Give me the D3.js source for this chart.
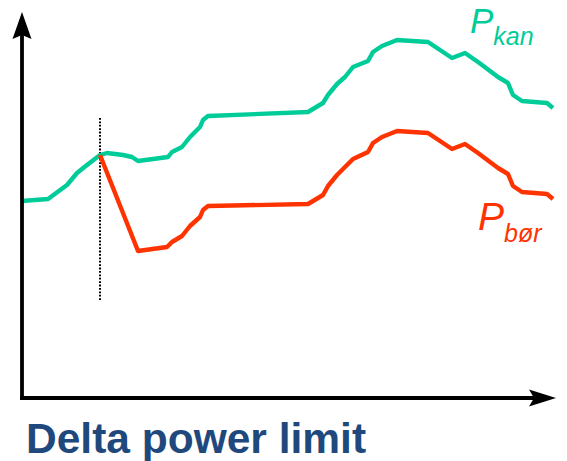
<!DOCTYPE html>
<html><head><meta charset="utf-8">
<script src="https://cdn.jsdelivr.net/npm/d3@7"></script>
<style>body{margin:0;background:#fff}svg{display:block}</style>
</head><body>
<script>
// data (time units t, power units v)
const kanT = [0,26,45,55,65,78,85,101,110,116,146,150,160,168,178,181,186,286,301,306,315,323,331,346,351,360,375,406,418,430,443,456,476,486,491,500,525,531];
const kanV = [197,199,213,225,233,243,245,243,241,237,241,246,251,261,271,278,282,286,295,303,314,321,331,337,346,352,358,356,348,340,345,336,321,315,303,297,295,290];
const borT = [78,116,145,150,160,168,178,181,186,286,301,306,315,323,331,346,351,360,375,406,418,430,443,456,476,486,491,500,525,531];
const borV = [243,147,151,156,162,172,181,188,192,194,203,212,223,231,239,246,255,261,267,265,257,249,254,245,230,224,212,206,204,199];
const eventT = [78];
const eventRange = [98, 280];
const title = "Delta power limit";

const W = 567, H = 461;
const svg = d3.select("body").append("svg").attr("width", W).attr("height", H);
const x = d3.scaleLinear().domain([0, 534]).range([22, 556]);
const y = d3.scaleLinear().domain([0, 386]).range([398, 12]);

const green = "#00CC99", red = "#FF3300";

// dotted event line
svg.selectAll(".ev").data(eventT).join("line")
  .attr("x1", d => x(d)).attr("x2", d => x(d))
  .attr("y1", y(eventRange[1])).attr("y2", y(eventRange[0]))
  .attr("stroke", "#000").attr("stroke-width", 2).attr("stroke-dasharray", "1.8,1.6");

const line = d3.line().x(d => x(d[0])).y(d => y(d[1]));
svg.append("path").datum(d3.zip(kanT, kanV)).attr("d", line)
  .attr("fill", "none").attr("stroke", green).attr("stroke-width", 4.4).attr("stroke-linejoin", "round");
svg.append("path").datum(d3.zip(borT, borV)).attr("d", line)
  .attr("fill", "none").attr("stroke", red).attr("stroke-width", 4.4).attr("stroke-linejoin", "round");

// axes
const x0 = x(0), y0 = y(0);
svg.append("path").attr("d", `M${x0},${y0+2} L${x0},30`).attr("stroke", "#000").attr("stroke-width", 3.8).attr("fill","none");
svg.append("path").attr("d", `M${x0-2},${y0} L${x(534)-10},${y0}`).attr("stroke", "#000").attr("stroke-width", 3.8).attr("fill","none");
// arrowheads
const ay = y(386);
svg.append("path").attr("d", `M${x0},${ay} L${x0+9.5},${ay+27} L${x0},${ay+23} L${x0-9.5},${ay+27} Z`).attr("fill", "#000");
const ax = x(534);
svg.append("path").attr("d", `M${ax},${y0} L${ax-27},${y0+8.5} L${ax-22},${y0} L${ax-27},${y0-8.5} Z`).attr("fill", "#000");

// labels
const font = "'Liberation Sans', Arial, sans-serif";
const lk = svg.append("text").attr("x", x(448)).attr("y", 33).attr("fill", green)
  .style("font-family", font).style("font-style", "italic");
lk.append("tspan").attr("font-size", 35).text("P");
lk.append("tspan").attr("font-size", 25).attr("dy", 12).text("kan");

const lb = svg.append("text").attr("x", x(456)).attr("y", 230).attr("fill", red)
  .style("font-family", font).style("font-style", "italic");
lb.append("tspan").attr("font-size", 39).text("P");
lb.append("tspan").attr("font-size", 25).attr("dy", 12).text("bør");

svg.append("text").attr("x", 26).attr("y", 453).attr("fill", "#1F497D")
  .style("font-family", font).style("font-weight", "bold").attr("font-size", 42.5)
  .text(title);
</script>
</body></html>
